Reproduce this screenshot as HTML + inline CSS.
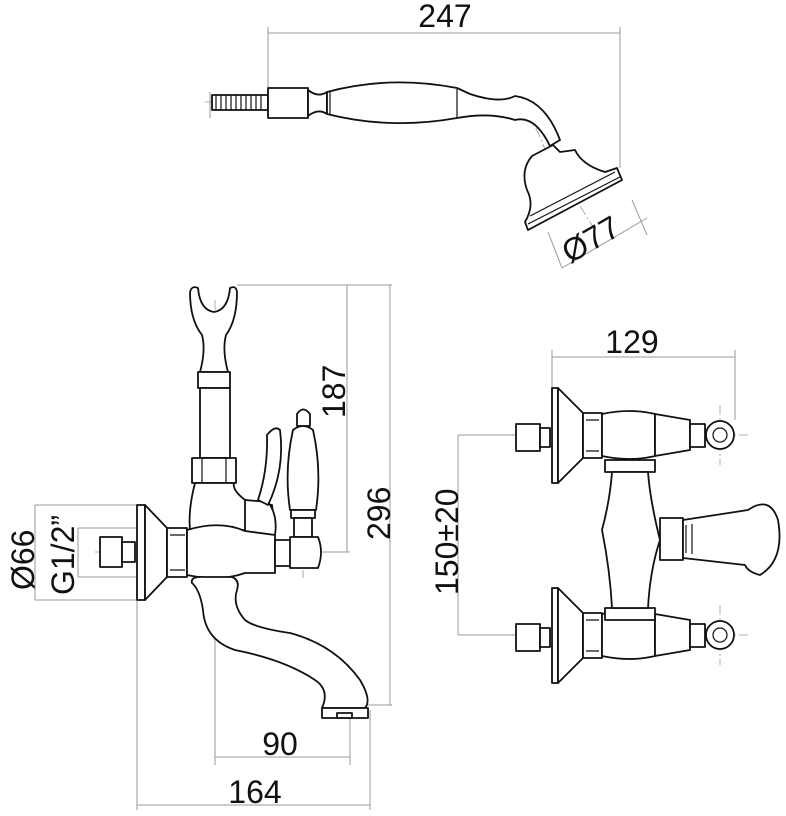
<!DOCTYPE html>
<html><head><meta charset="utf-8"><style>
html,body{margin:0;padding:0;background:#fff}
svg{display:block}
text{font-family:"Liberation Sans",sans-serif;font-size:32px;fill:#111}
.d{stroke:#9a9a9a;stroke-width:1;fill:none}
.c{stroke:#999;stroke-width:0.8;fill:none;stroke-dasharray:10 3 2 3}
.o{stroke:#111;stroke-width:1.8;fill:#fff;stroke-linejoin:round}
.t{stroke:#111;stroke-width:1.2;fill:none}
</style></head><body>
<svg width="786" height="816" viewBox="0 0 786 816">
<!-- ===== hand shower ===== -->
<path class="d" d="M268 33H620M268 27V100M620 27V168M210 92V118"/>
<text x="445" y="27" text-anchor="middle">247</text>
<path class="c" d="M205 102H505 Q530 105 545 150 L595 230"/>
<path class="d" d="M548 232 L562 268 M632 200 L647 235 M562 268 L647 218"/>
<!-- hose -->
<path class="o" d="M212 95H268V110H212Z"/>
<path class="t" d="M216 95V110M221 95V110M226 95V110M231 95V110M236 95V110M241 95V110M246 95V110M251 95V110M256 95V110M261 95V110"/>
<path class="o" d="M268 88H308V118H268Z"/>
<path class="o" d="M308 90 Q318 98 327 92 V114 Q318 108 308 116Z"/>
<path class="o" d="M327 92 Q390 75 457 88 L470 94 Q500 104 515 96 Q545 100 560 140 L550 146 Q535 115 515 120 Q490 112 457 118 Q390 130 327 114Z"/>
<path class="t" d="M330 92V114M457 88V118"/>
<path class="o" d="M532 156 L553 145 L560 152 L575 150 Q582 165 605 172 L617 168 L622 180 L528 230 L525 222 Q535 205 527 190 Q520 170 532 156Z"/>
<path class="t" d="M530 216 L615 172 M528 224 L620 177"/>
<text transform="translate(570 264) rotate(-30)">Ø77</text>
<!-- ===== left side view ===== -->
<path class="d" d="M237 285H392M347 285V552M390 285V705M320 552H350M365 705H392"/>
<text transform="translate(345 418) rotate(-90)">187</text>
<text transform="translate(390 540) rotate(-90)">296</text>
<path class="d" d="M35 505H137M35 600H137M78 528H170M78 577H170M35 505V600M78 528V577"/>
<text transform="translate(34 590) rotate(-90)">Ø66</text>
<text transform="translate(74 595) rotate(-90)">G1/2”</text>
<path class="d" d="M215 640V765M350 715V765M215 757H350M137 600V810M370 710V810M137 805H370"/>
<text x="280" y="755" text-anchor="middle">90</text>
<text x="255" y="803" text-anchor="middle">164</text>
<path class="c" d="M95 552H330M303 408V578M215 300V460M214 590V640"/>
<!-- fork holder -->
<path class="o" d="M190 292 Q192 285 198 288 Q200 310 214 312 Q228 310 230 288 Q236 285 237 292 Q237 320 226 335 Q222 350 228 372 H200 Q206 350 202 335 Q190 320 190 292Z"/>
<path class="o" d="M198 372H230V388H198Z"/>
<path class="o" d="M200 388H230V458H200Z"/>
<path class="o" d="M192 458H236V483H192Z"/>
<path class="t" d="M202 458V483M226 458V483"/>
<!-- body -->
<path class="o" d="M195 483 Q188 510 190 530 L275 530 L272 505 L245 500 Q232 490 234 483Z"/>
<path class="o" d="M245 500 L268 502 Q278 515 275 535 L245 535Z"/>
<path class="o" d="M258 500 Q268 470 267 435 Q275 425 280 430 Q285 470 268 505Z"/>
<path class="o" d="M100 537H122V567H100Z"/>
<path class="o" d="M122 542H135V562H122Z"/>
<path class="o" d="M137 505H145V600H137Z"/>
<path class="o" d="M145 505 L167 528 V577 L145 600Z"/>
<path class="o" d="M167 528H187V577H167Z"/>
<path class="t" d="M170 535H185M170 570H185"/>
<path class="o" d="M187 530 Q220 520 245 531 L275 535 V573 L245 573 Q220 582 187 575Z"/>
<path class="o" d="M275 540H292V566H275Z"/>
<!-- lever handle -->
<path class="o" d="M297 414 Q303 405 310 414 V426 H297Z"/>
<path class="o" d="M293 430 Q303 422 313 430 Q322 470 316 510 H290 Q284 470 293 430Z"/>
<path class="o" d="M291 510H315V518H291Z"/>
<path class="o" d="M294 518H312V537H294Z"/>
<path class="o" d="M290 537 H318 Q324 552 318 568 H290Z"/>
<!-- spout -->
<path class="o" d="M192 583 Q190 576 205 577 L232 577 Q240 580 237 590 Q232 605 245 620 Q255 628 290 633 Q335 645 360 680 Q372 700 365 708 L322 708 Q330 690 315 680 Q285 660 235 650 Q205 640 203 610 Q200 590 192 583Z"/>
<path class="o" d="M322 708H368V718H322Z"/>
<path class="o" d="M337 713H352V718H337Z"/>
<!-- ===== right front view ===== -->
<path class="d" d="M552 357H735M552 350V390M735 350V420M458 435H552M458 635H552M458 435V635"/>
<text x="632" y="353" text-anchor="middle">129</text>
<text transform="translate(458 595) rotate(-90)">150±20</text>
<path class="c" d="M505 435H748M505 635H748M720 405V465M720 605V665M630 450V620"/>
<g id="u">
<path class="o" d="M516 424H540V451H516Z"/>
<path class="o" d="M540 428H550V447H540Z"/>
<path class="o" d="M552 388H558V483H552Z"/>
<path class="o" d="M558 388 L583 413 V458 L558 483Z"/>
<path class="o" d="M583 413H602V458H583Z"/>
<path class="t" d="M586 420H599M586 451H599"/>
<path class="o" d="M602 414 Q630 408 655 414 V456 Q630 462 602 456Z"/>
<path class="o" d="M655 414 L690 420 V450 L655 456Z"/>
<path class="o" d="M690 424H705V447H690Z"/>
<circle class="o" cx="720" cy="435" r="14"/>
<circle class="t" cx="720" cy="435" r="7"/>
</g>
<use href="#u" y="200"/>
<path class="o" d="M605 460H655V472H605Z"/>
<path class="o" d="M605 608H655V620H605Z"/>
<path class="o" d="M612 472 Q610 500 602 530 Q610 570 612 608 H648 Q650 570 660 540 Q650 500 648 472Z"/>
<path class="o" d="M660 518H683V560H660Z"/>
<path class="o" d="M683 520 L748 510 Q770 495 778 520 Q785 560 760 575 Q748 572 745 565 L683 558Z"/>
<path class="t" d="M686 525V553M692 524V554"/>
</svg>
</body></html>
